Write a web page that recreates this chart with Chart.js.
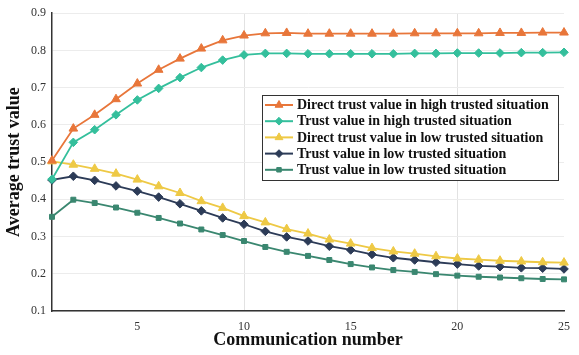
<!DOCTYPE html>
<html>
<head>
<meta charset="utf-8">
<script src="https://cdn.jsdelivr.net/npm/chart.js@4.4.0/dist/chart.umd.min.js"></script>
<style>
  html, body { margin: 0; padding: 0; background: #fff; }
  #wrap { width: 579px; height: 355px; position: relative; }
</style>
</head>
<body>
<div id="wrap"><canvas id="c"></canvas></div>
<script>
// Communication number 1..25
const rounds = [1, 2, 3, 4, 5, 6, 7, 8, 9, 10, 11, 12, 13, 14, 15, 16, 17, 18, 19, 20, 21, 22, 23, 24, 25];

const directHigh = [0.504, 0.590, 0.627, 0.669, 0.711, 0.748, 0.778, 0.805, 0.827, 0.840, 0.846, 0.847, 0.845, 0.845, 0.845, 0.845, 0.845, 0.846, 0.846, 0.846, 0.846, 0.847, 0.847, 0.848, 0.848];
const trustHigh = [0.454, 0.553, 0.587, 0.627, 0.667, 0.698, 0.727, 0.754, 0.774, 0.788, 0.792, 0.792, 0.791, 0.791, 0.791, 0.791, 0.791, 0.792, 0.792, 0.793, 0.793, 0.793, 0.794, 0.794, 0.795];
const directLow = [0.502, 0.493, 0.482, 0.469, 0.453, 0.435, 0.417, 0.395, 0.377, 0.355, 0.338, 0.320, 0.308, 0.292, 0.281, 0.269, 0.260, 0.254, 0.247, 0.241, 0.238, 0.235, 0.233, 0.231, 0.230];
const trustLow = [0.452, 0.462, 0.451, 0.436, 0.422, 0.406, 0.388, 0.369, 0.350, 0.333, 0.314, 0.299, 0.288, 0.274, 0.264, 0.252, 0.243, 0.237, 0.231, 0.226, 0.221, 0.219, 0.216, 0.215, 0.213];
const trustLow2 = [0.353, 0.399, 0.390, 0.378, 0.364, 0.350, 0.335, 0.319, 0.304, 0.288, 0.272, 0.259, 0.248, 0.237, 0.226, 0.217, 0.210, 0.205, 0.199, 0.195, 0.192, 0.190, 0.188, 0.186, 0.185];

const xTicks = [5, 10, 15, 20, 25];
const xGridAt = [10, 20];

const SERIF = '"Liberation Serif", "DejaVu Serif", serif';

const series = [
    { label: 'Direct trust value in high trusted situation', data: directHigh, color: '#e8763a', marker: 'triangle', r: 5 },
    { label: 'Trust value in high trusted situation', data: trustHigh, color: '#34bf9c', marker: 'rectRot', r: 4.3 },
    { label: 'Direct trust value in low trusted situation', data: directLow, color: '#eec945', marker: 'triangle', r: 5 },
    { label: 'Trust value in low trusted situation', data: trustLow, color: '#2c3b57', marker: 'rectRot', r: 4.3 },
    { label: 'Trust value in low trusted situation', data: trustLow2, color: '#3a8770', marker: 'rect', r: 3.5 }
];

// legend drawn inside the plot area, MATLAB style
const boxLegend = {
    id: 'boxLegend',
    afterDatasetsDraw(chart) {
        const ctx = chart.ctx;
        const left = 262, top = 95, w = 296, h = 85;
        ctx.save();
        ctx.fillStyle = '#fff';
        ctx.fillRect(left, top, w, h);
        ctx.strokeStyle = '#333';
        ctx.lineWidth = 1;
        ctx.strokeRect(left + 0.5, top + 0.5, w, h);
        ctx.textBaseline = 'middle';
        chart.data.datasets.forEach((ds, i) => {
            const y = top + 10 + i * 16.2;
            ctx.strokeStyle = ds.borderColor;
            ctx.fillStyle = ds.borderColor;
            ctx.lineWidth = 2;
            ctx.beginPath();
            ctx.moveTo(left + 3, y);
            ctx.lineTo(left + 31, y);
            ctx.stroke();
            ctx.lineWidth = 1;
            Chart.helpers.drawPoint(ctx, {
                pointStyle: ds.pointStyle,
                radius: ds.pointRadius * 0.9,
                borderWidth: 1
            }, left + 17, y);
            ctx.fillStyle = '#111';
            ctx.font = 'bold 14px ' + SERIF;
            ctx.fillText(ds.label, left + 35, y + 0.5);
        });
        ctx.restore();
    }
};

new Chart(document.getElementById('c'), {
    type: 'line',
    data: {
        labels: rounds,
        datasets: series.map(s => ({
            label: s.label,
            data: rounds.map((x, i) => ({ x: x, y: s.data[i] })),
            borderColor: s.color,
            backgroundColor: s.color,
            pointBackgroundColor: s.color,
            pointBorderColor: s.color,
            pointStyle: s.marker,
            pointRadius: s.r,
            pointBorderWidth: 1,
            borderWidth: 1.8,
            tension: 0,
            clip: false
        }))
    },
    options: {
        responsive: true,
        maintainAspectRatio: false,
        animation: false,
        layout: { padding: { top: 12, right: 6, left: 0, bottom: 0 } },
        plugins: {
            legend: { display: false },
            tooltip: { enabled: false }
        },
        scales: {
            x: {
                type: 'linear',
                min: 1,
                max: 25,
                afterBuildTicks: scale => { scale.ticks = xTicks.map(v => ({ value: v })); },
                afterFit: scale => { scale.height = 44; },
                border: { color: '#333', width: 1.5 },
                grid: {
                    drawTicks: false,
                    color: c => xGridAt.includes(c.tick.value) ? '#e2e2e2' : 'rgba(0,0,0,0)'
                },
                ticks: {
                    color: '#333',
                    padding: 9,
                    font: { family: SERIF, size: 12 }
                },
                title: {
                    display: true,
                    text: 'Communication number',
                    color: '#111',
                    padding: { top: -2 },
                    font: { family: SERIF, size: 18, weight: 'bold' }
                }
            },
            y: {
                min: 0.1,
                max: 0.9,
                afterFit: scale => { scale.width = 52; },
                border: { color: '#333', width: 1.5 },
                grid: { drawTicks: false, color: '#ececec' },
                ticks: {
                    stepSize: 0.1,
                    color: '#333',
                    padding: 6,
                    font: { family: SERIF, size: 12 },
                    callback: v => v.toFixed(1)
                },
                title: {
                    display: true,
                    text: 'Average trust value',
                    color: '#111',
                    padding: { bottom: 2 },
                    font: { family: SERIF, size: 18, weight: 'bold' }
                }
            }
        }
    },
    plugins: [boxLegend]
});
</script>
</body>
</html>
